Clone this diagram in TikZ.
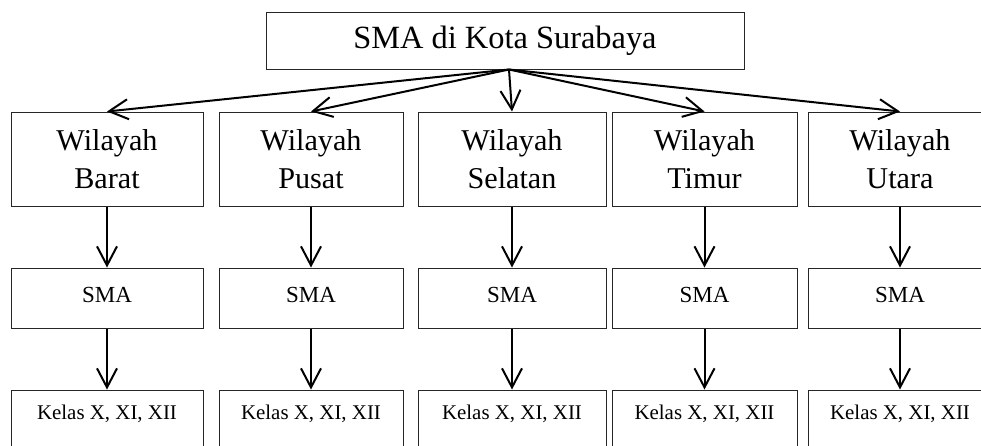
\documentclass[tikz,border=0pt]{standalone}
\usepackage{fontspec}
\setmainfont{Liberation Serif}
\usetikzlibrary{arrows.meta,positioning}

\begin{document}
\begin{tikzpicture}[
        x=0.5pt, y=-0.5pt,
        node distance=30.5pt,
        box/.style={rectangle, draw=black!85, line width=0.5pt, inner sep=0pt},
        kota/.style={box, minimum width=239pt, minimum height=28.5pt, font=\fontsize{16.2}{19}\selectfont},
        wilayah/.style={box, align=center, minimum height=47pt, font=\fontsize{15.1}{19.3}\selectfont},
        sma/.style={box, minimum height=30pt, text height=17pt, text depth=13pt, font=\fontsize{11.5}{14}\selectfont},
        kelas/.style={box, minimum height=30pt, text height=14.5pt, text depth=15.5pt, font=\fontsize{10.45}{12.5}\selectfont},
        arrow/.style={line width=1pt, -{Straight Barb[length=9.5pt, width=10pt]}}
    ]
        \useasboundingbox (0,0) rectangle (981,445);
        \clip (0,0) rectangle (981,445);

        % Kota
        \node[kota] (kota) at (505,40.5) {SMA di Kota Surabaya};
        \coordinate (hub) at ([xshift=2pt]kota.south);

        % Wilayah
        \node[wilayah, minimum width=96pt] (barat) at (107,159) {Wilayah\\Barat};
        \node[wilayah, minimum width=92pt] (pusat) at (311,159) {Wilayah\\Pusat};
        \node[wilayah, minimum width=94pt] (selatan) at (512,159) {Wilayah\\Selatan};
        \node[wilayah, minimum width=92.5pt] (timur) at (704.5,159) {Wilayah\\Timur};
        \node[wilayah, minimum width=92pt] (utara) at (900,159) {Wilayah\\Utara};

        % SMA per wilayah
        \node[sma, minimum width=96pt, below=of barat] (smabarat) {SMA};
        \node[sma, minimum width=92pt, below=of pusat] (smapusat) {SMA};
        \node[sma, minimum width=94pt, below=of selatan] (smaselatan) {SMA};
        \node[sma, minimum width=92.5pt, below=of timur] (smatimur) {SMA};
        \node[sma, minimum width=92pt, below=of utara] (smautara) {SMA};

        % Kelas
        \node[kelas, minimum width=96pt, below=of smabarat] (kelasbarat) {Kelas X, XI, XII};
        \node[kelas, minimum width=92pt, below=of smapusat] (kelaspusat) {Kelas X, XI, XII};
        \node[kelas, minimum width=94pt, below=of smaselatan] (kelasselatan) {Kelas X, XI, XII};
        \node[kelas, minimum width=92.5pt, below=of smatimur] (kelastimur) {Kelas X, XI, XII};
        \node[kelas, minimum width=92pt, below=of smautara] (kelasutara) {Kelas X, XI, XII};

        % Connections
        \draw[arrow] (hub) -- (barat.north);
        \draw[arrow] (hub) -- (pusat.north);
        \draw[arrow] (hub) -- (selatan.north);
        \draw[arrow] (hub) -- (timur.north);
        \draw[arrow] (hub) -- (utara.north);

        \draw[arrow] (barat) -- (smabarat);
        \draw[arrow] (pusat) -- (smapusat);
        \draw[arrow] (selatan) -- (smaselatan);
        \draw[arrow] (timur) -- (smatimur);
        \draw[arrow] (utara) -- (smautara);

        \draw[arrow] (smabarat) -- (kelasbarat);
        \draw[arrow] (smapusat) -- (kelaspusat);
        \draw[arrow] (smaselatan) -- (kelasselatan);
        \draw[arrow] (smatimur) -- (kelastimur);
        \draw[arrow] (smautara) -- (kelasutara);
    \end{tikzpicture}
\end{document}
